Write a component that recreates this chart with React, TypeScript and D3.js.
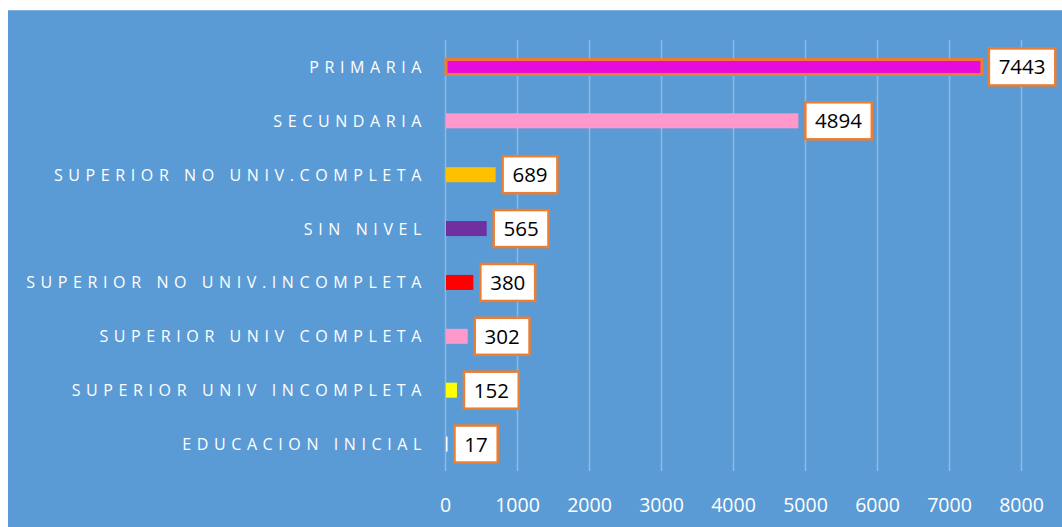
import React from "react";
import * as d3 from "d3";

const categories = [
  "PRIMARIA",
  "SECUNDARIA",
  "SUPERIOR NO UNIV.COMPLETA",
  "SIN NIVEL",
  "SUPERIOR NO UNIV.INCOMPLETA",
  "SUPERIOR UNIV COMPLETA",
  "SUPERIOR UNIV INCOMPLETA",
  "EDUCACION INICIAL",
];
const values = [7443, 4894, 689, 565, 380, 302, 152, 17];
const barColors = ["#E60BDC", "#FF99CC", "#FFC000", "#7030A0", "#FF0000", "#FF99CC", "#FFFF00", "#FFFFFF"];
const ticks = [0, 1000, 2000, 3000, 4000, 5000, 6000, 7000, 8000];

const W = 1062;
const H = 527;

export default function App() {
  const x = d3.scaleLinear().domain([0, 8000]).range([445.5, 1021.5]);
  const y = d3.scalePoint<string>().domain(categories).range([40, 471]).padding(0.5);
  const barH = 15;
  const font = "'Open Sans', 'Noto Sans', sans-serif";
  return (
    <svg width={W} height={H} style={{ position: "absolute", left: 0, top: 0, display: "block" }}>
      <rect x={8} y={10} width={W - 8} height={H - 10} fill="#5B9BD5" />
      <line x1={8} x2={W} y1={10.5} y2={10.5} stroke="#7FB0E0" strokeWidth={1} />
      {ticks.map((t) => (
        <line key={"g" + t} x1={x(t)} x2={x(t)} y1={40} y2={471} stroke="#8CB9E4" strokeWidth={1.5} />
      ))}
      {ticks.map((t) => (
        <text key={"t" + t} x={x(t)} y={512} textAnchor="middle" fill="#FFFFFF" fontFamily={font} fontSize={19.5}>
          {t}
        </text>
      ))}
      {categories.map((c, i) => {
        const cy = y(c)!;
        const x0 = x(0) + 0.5;
        const w = Math.max(x(values[i]) - x(0), 1.5);
        const label = String(values[i]);
        const bw = label.length * 11.6 + 20;
        const bx = x0 + w + 7;
        return (
          <g key={c}>
            <text
              x={427}
              y={cy + 6}
              textAnchor="end"
              fill="#FFFFFF"
              fontFamily={font}
              fontSize={16}
              letterSpacing={5.6}
            >
              {c}
            </text>
            <rect
              x={x0}
              y={cy - barH / 2}
              width={w}
              height={barH}
              fill={barColors[i]}
              stroke={i === 0 ? "#ED7D31" : "none"}
              strokeWidth={i === 0 ? 3 : 0}
            />
            <rect x={bx} y={cy - 18.5} width={bw} height={37} fill="#FFFFFF" stroke="#ED7D31" strokeWidth={2.5} />
            <text x={bx + bw / 2} y={cy + 7.5} textAnchor="middle" fill="#000000" fontFamily={font} fontSize={20.5}>
              {label}
            </text>
          </g>
        );
      })}
    </svg>
  );
}
